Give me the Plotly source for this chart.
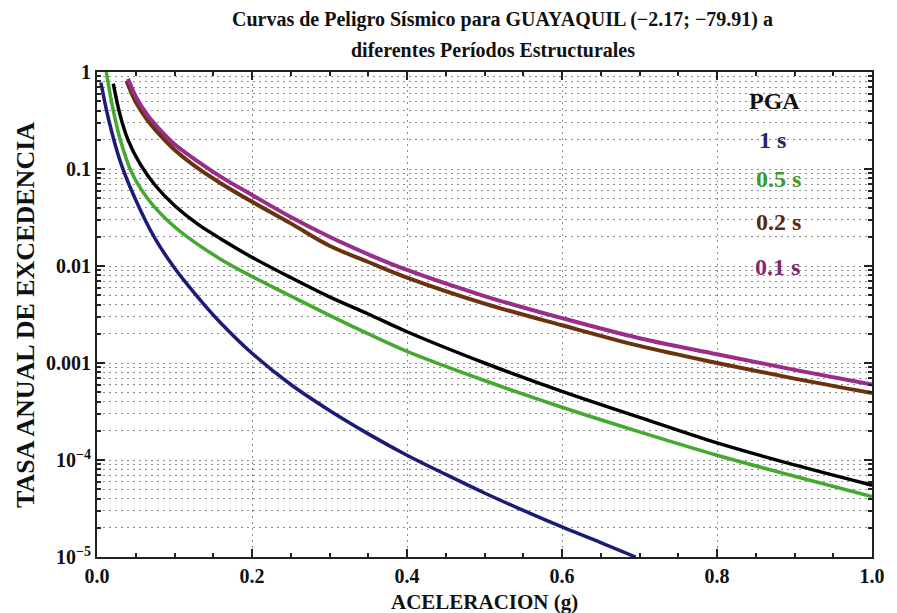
import plotly.graph_objects as go

# Data (acceleration g, annual exceedance rate)
x_1s = [0.005, 0.015, 0.03, 0.05, 0.075, 0.1, 0.13, 0.16, 0.2, 0.25, 0.3, 0.35, 0.4, 0.45, 0.5, 0.55, 0.6, 0.65, 0.695]
y_1s = [0.78, 0.324, 0.12, 0.0479, 0.0191, 0.00955, 0.00479, 0.00257, 0.00126, 6.0e-4, 3.24e-4, 1.86e-4, 1.12e-4, 7.1e-5, 4.57e-5, 3.02e-5, 2.04e-5, 1.41e-5, 1.0e-5]

x_05s = [0.012, 0.02, 0.03, 0.045, 0.065, 0.09, 0.12, 0.16, 0.2, 0.25, 0.3, 0.35, 0.4, 0.5, 0.6, 0.7, 0.8, 0.9, 1.0]
y_05s = [1.0, 0.44, 0.2, 0.091, 0.05, 0.030, 0.019, 0.0117, 0.0078, 0.0049, 0.0031, 0.0020, 0.00132, 6.6e-4, 3.5e-4, 1.95e-4, 1.12e-4, 6.8e-5, 4.2e-5]

x_pga = [0.021, 0.03, 0.04, 0.055, 0.075, 0.1, 0.13, 0.17, 0.2, 0.25, 0.3, 0.35, 0.4, 0.5, 0.6, 0.7, 0.8, 0.9, 1.0]
y_pga = [0.76, 0.355, 0.2, 0.115, 0.068, 0.042, 0.027, 0.017, 0.0123, 0.0076, 0.0048, 0.0032, 0.0021, 0.001, 5.1e-4, 2.75e-4, 1.5e-4, 8.9e-5, 5.5e-5]

x_02s = [0.038, 0.05, 0.065, 0.08, 0.1, 0.13, 0.16, 0.2, 0.25, 0.3, 0.35, 0.4, 0.5, 0.6, 0.7, 0.8, 0.9, 1.0]
y_02s = [0.81, 0.49, 0.32, 0.23, 0.158, 0.102, 0.071, 0.046, 0.0275, 0.0162, 0.011, 0.0076, 0.0041, 0.00245, 0.0015, 0.001, 6.9e-4, 4.9e-4]

x_01s = [0.04, 0.05, 0.065, 0.08, 0.1, 0.13, 0.16, 0.2, 0.25, 0.3, 0.35, 0.4, 0.5, 0.6, 0.7, 0.8, 0.9, 1.0]
y_01s = [0.85, 0.56, 0.36, 0.26, 0.18, 0.12, 0.083, 0.054, 0.032, 0.02, 0.0132, 0.0091, 0.0049, 0.0029, 0.0018, 0.00123, 8.5e-4, 6.0e-4]

y_tickvals = [1e-5, 1e-4, 1e-3, 1e-2, 1e-1, 1]
y_ticktext = ["10<sup>−5</sup>", "10<sup>−4</sup>", "0.001", "0.01", "0.1", "1"]
x_tickvals = [0.0, 0.2, 0.4, 0.6, 0.8, 1.0]
x_ticktext = ["0.0", "0.2", "0.4", "0.6", "0.8", "1.0"]

legend_labels = ["PGA", "1 s", "0.5 s", "0.2 s", "0.1 s"]
legend_colors = ["#111111", "#25256a", "#3f9a2c", "#5a2a10", "#7e2a70"]

FONT = "Liberation Serif"
C_NAVY = "#1b1b78"
C_GREEN = "#45a830"
C_BLACK = "#000000"
C_BROWN = "#6a3310"
C_MAG = "#9a2d88"

# page offset of the browser's default body margin
OFF = 8
W, H = 897 - OFF, 613 - OFF
PL, PR, PT, PB = 97, 882, 72, 557  # plot box in reference pixels


def px_x(px):
    return (px - PL) / (PR - PL)


def px_y(py):
    return 1 - (py - PT) / (PB - PT)


fig = go.Figure()
fig.add_trace(go.Scatter(x=x_02s, y=y_02s, mode="lines", line=dict(color=C_BROWN, width=4, shape="spline")))
fig.add_trace(go.Scatter(x=x_01s, y=y_01s, mode="lines", line=dict(color=C_MAG, width=4, shape="spline")))
fig.add_trace(go.Scatter(x=x_05s, y=y_05s, mode="lines", line=dict(color=C_GREEN, width=3.5, shape="spline")))
fig.add_trace(go.Scatter(x=x_pga, y=y_pga, mode="lines", line=dict(color=C_BLACK, width=3.5, shape="spline")))
fig.add_trace(go.Scatter(x=x_1s, y=y_1s, mode="lines", line=dict(color=C_NAVY, width=3.5, shape="spline")))

grid_color = "#8c8c8c"
gdash = "2px,4px"
fig.update_xaxes(
    range=[0, 1.0], tickvals=x_tickvals, ticktext=[f"<b>{t}</b>" for t in x_ticktext],
    ticks="inside", ticklen=8, tickwidth=1.5, tickcolor="#222",
    showline=True, linecolor="#222", linewidth=2, mirror="allticks",
    showgrid=True, gridcolor=grid_color, griddash=gdash, gridwidth=1.2,
    minor=dict(dtick=0.05, ticks="inside", ticklen=4, tickcolor="#222", showgrid=False),
    tickfont=dict(family=FONT, size=20, color="#111"),
    zeroline=False,
)
fig.update_yaxes(
    type="log", range=[-5, 0], tickvals=y_tickvals, ticktext=[f"<b>{t}</b>" for t in y_ticktext],
    ticks="inside", ticklen=8, tickwidth=1.5, tickcolor="#222",
    showline=True, linecolor="#222", linewidth=2, mirror="allticks",
    showgrid=True, gridcolor=grid_color, griddash=gdash, gridwidth=1.2,
    minor=dict(dtick="D1", ticks="inside", ticklen=4, tickcolor="#222",
               showgrid=True, gridcolor=grid_color, griddash=gdash, gridwidth=1.2),
    tickfont=dict(family=FONT, size=20, color="#111"),
)

ann = []
# title (two lines)
ann.append(dict(text="<b>Curvas de Peligro Sísmico para GUAYAQUIL (−2.17; −79.91) a</b>",
                x=px_x(508), y=px_y(20), xref="paper", yref="paper", showarrow=False,
                xanchor="center", yanchor="middle", font=dict(family=FONT, size=20, color="#111")))
ann.append(dict(text="<b>diferentes Períodos Estructurales</b>",
                x=px_x(498), y=px_y(50), xref="paper", yref="paper", showarrow=False,
                xanchor="center", yanchor="middle", font=dict(family=FONT, size=20, color="#111")))
# axis titles
ann.append(dict(text="<b>ACELERACION (g)</b>", x=px_x(490), y=px_y(602), xref="paper", yref="paper",
                showarrow=False, xanchor="center", yanchor="middle",
                font=dict(family=FONT, size=21, color="#111")))
ann.append(dict(text="<b>TASA ANUAL DE EXCEDENCIA</b>", x=px_x(24), y=px_y(315), xref="paper", yref="paper",
                showarrow=False, xanchor="center", yanchor="middle", textangle=-90,
                font=dict(family=FONT, size=26, color="#111")))

leg_y = [101, 140, 179, 222, 267]
leg_x = [783, 781, 787, 787, 786]
for lab, col, lx, ly in zip(legend_labels, legend_colors, leg_x, leg_y):
    ann.append(dict(text=f"<b>{lab}</b>", xref="paper", yref="paper",
                    x=px_x(lx), y=px_y(ly),
                    showarrow=False, xanchor="center", yanchor="middle",
                    font=dict(family=FONT, size=24, color=col)))

fig.update_layout(
    width=W, height=H,
    margin=dict(l=PL - OFF, r=W - (PR - OFF), t=PT - OFF, b=H - (PB - OFF)),
    paper_bgcolor="white", plot_bgcolor="white",
    showlegend=False,
    annotations=ann,
)

fig.write_html("out.html")
